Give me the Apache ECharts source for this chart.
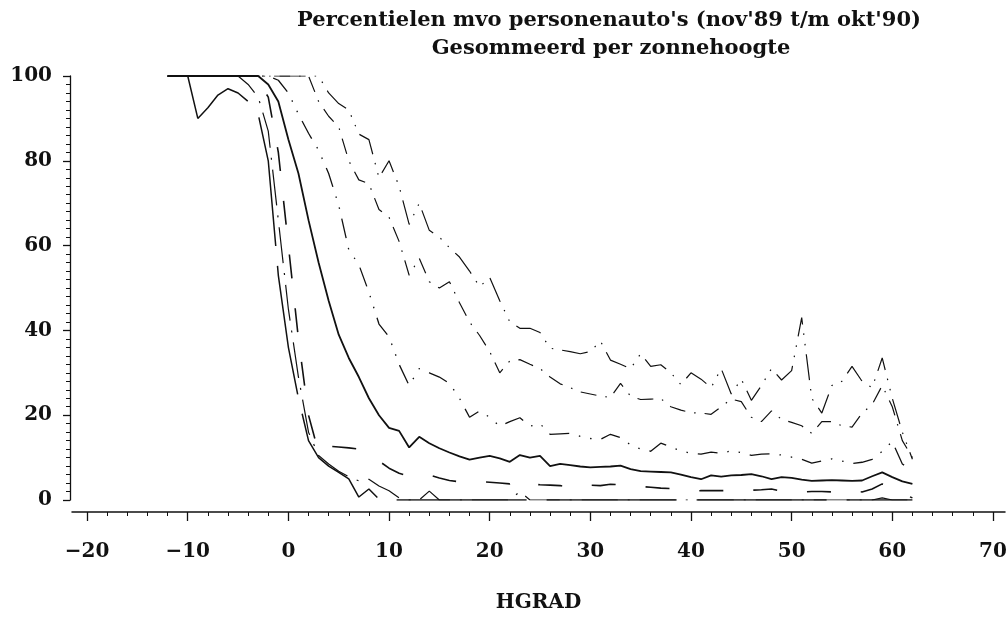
<!DOCTYPE html>
<html><head><meta charset="utf-8">
<script src="https://cdn.jsdelivr.net/npm/echarts@6/dist/echarts.min.js"></script>
<style>html,body{margin:0;padding:0;background:#fff}#c{width:1008px;height:619px}</style>
</head><body><div id="c"></div>
<script>
// Solar height (HGRAD), degrees
const hgrad = [-12,-11,-10,-9,-8,-7,-6,-5,-4,-3,
  -2,-1,0,1,2,3,4,5,6,7,
  8,9,10,11,12,13,14,15,16,17,
  18,19,20,21,22,23,24,25,26,27,
  28,29,30,31,32,33,34,35,36,37,
  38,39,40,41,42,43,44,45,46,47,
  48,49,50,51,52,53,54,55,56,57,
  58,59,60,61,62];

// Percentile curves, lowest to highest (values in %)
const pA = [100,100,100,90,92.5,95.5,97,96,94,91,
  80,53,36,24,14,10,8,6.5,5,0.7,
  2.6,0.2,0,0,0,0,0,0,0,0,
  0,0,0,0,0,0,0,0,0,0,
  0,0,0,0,0,0,0,0,0,0,
  0,0,0,0,0,0,0,0,0,0,
  0,0,0,0,0,0,0,0,0,0,
  0,0,0,0,0];
const pB = [100,100,100,100,100,100,100,100,98,95,
  87,66,45,29,16,10.5,8.5,6.8,5.5,4.5,
  4.9,3.3,2.2,0.5,0,0,2.1,0,0,0,
  0,0,0,0,0,2,0,0,0,0,
  0,0,0,0,0,0,0,0,0,0,
  0,0,0,0,0,0,0,0,0,0,
  0,0,0,0,0,0,0,0,0,0,
  0,0.5,0,0,0];
const pC = [100,100,100,100,100,100,100,100,100,99,
  95,82,60,38,20,11.2,12.7,12.5,12.3,12,
  10.5,9.2,7.5,6.3,5.6,5.8,5.9,5.2,4.6,4.3,
  4.3,4.3,4.2,4,3.8,4.8,3.8,3.6,3.5,3.4,
  3,3.6,3.5,3.4,3.7,3.6,3.4,3.2,3,2.8,
  2.7,2.4,2.1,2.2,2.2,2.2,2.2,2.3,2.3,2.4,
  2.6,2.1,1.8,1.9,2,2,1.9,2.3,2.2,1.9,
  2.6,3.8,3,1.5,0.5];
const pD = [100,100,100,100,100,100,100,100,100,100,
  98,94,85,77,66,56,47,39,33.5,29,
  24,20,17,16.3,12.4,14.9,13.4,12.2,11.2,10.3,
  9.5,10,10.4,9.8,9,10.6,10,10.4,8,8.5,
  8.2,7.9,7.7,7.8,7.9,8.1,7.3,6.8,6.7,6.6,
  6.5,6,5.4,4.9,5.8,5.5,5.8,5.9,6.1,5.6,
  4.9,5.4,5.2,4.8,4.5,4.6,4.7,4.6,4.5,4.6,
  5.6,6.5,5.4,4.4,3.8];
const pE = [100,100,100,100,100,100,100,100,100,100,
  100,99,96,91,86.5,82.5,77,69.5,59,55.5,
  49,41.5,38.5,32,27,31,30,29,27.5,24,
  19.5,21,19.5,17.4,18.5,19.4,17.4,18,15.5,15.6,
  15.7,15,14.5,14.3,15.5,14.7,13,12,11.5,13.4,
  12.5,11.6,11,10.8,11.3,11,11.6,11.2,10.5,10.8,
  10.9,10.6,10.1,9.6,8.7,9.2,9.7,9.2,8.6,8.9,
  9.6,11.5,13.8,8.5,6.9];
const pF = [100,100,100,100,100,100,100,100,100,100,
  100,100,100,100,100,94,90.5,88,80,75.5,
  74.6,68.5,66.7,61,53,57,51.5,50,51.5,46.5,
  42,38.8,35,30,32.8,33.1,32,31,29,27.4,
  26.5,25.5,25,24.5,24.2,27.5,24.5,23.7,23.8,23.9,
  22,21.2,20.6,20.5,20.2,22,23.8,23.2,19.5,18.5,
  21,19,18.3,17.5,15.7,18.5,18.5,17.5,17.2,20.5,
  22.5,27,22,14,10];
const pG = [100,100,100,100,100,100,100,100,100,100,
  100,100,100,100,100,100,96,93.5,92,86.3,
  85,76,80,74,65,70,63.6,62,59.5,57.3,
  54,50.3,52.5,47,42,40.5,40.5,39.5,35.8,35.4,
  35,34.5,35,37.5,33,32,31,34.5,31.5,31.9,
  30,27.2,30,28.5,26.5,31,25,28.5,23.5,27,
  31,28.3,30.5,43,24,20.5,27,28,31.5,28,
  26.5,33.5,24,16,9.6];

// Axis ticks
const xTicks = [-20,-10,0,10,20,30,40,50,60,70];
const xMinorTicks = [-20,-18,-16,-14,-12,-10,-8,-6,-4,-2,0,2,4,6,8,10,12,14,16,18,20,
  22,24,26,28,30,32,34,36,38,40,42,44,46,48,50,52,54,56,58,60,62,64,66,68,70];

const titleLines = ["Percentielen mvo personenauto's (nov'89 t/m okt'90)", 'Gesommeerd per zonnehoogte'];
const xName = 'HGRAD';

const FONT = '"DejaVu Serif", "Liberation Serif", serif';
const INK = '#111';
const chart = echarts.init(document.getElementById('c'), null, {renderer: 'canvas'});

function curve(name, vals, dash, width) {
  return {
    name: name, type: 'line', symbol: 'none', silent: true,
    data: hgrad.map((x, i) => [x, vals[i]]),
    lineStyle: {color: INK, width: width, type: dash, cap: 'butt'}
  };
}

const labelStyle = {fontFamily: FONT, fontWeight: 'bold', fontSize: 20, color: INK};

chart.setOption({
  animation: false,
  backgroundColor: '#fff',
  grid: {left: 72, right: 3, top: 76, bottom: 119, outerBoundsMode: 'none'},
  graphic: [
    {type: 'text', x: 609, y: 21, style: {text: titleLines[0], textAlign: 'center', textVerticalAlign: 'middle', fill: INK, font: 'bold 21px ' + FONT}},
    {type: 'text', x: 611, y: 49, style: {text: titleLines[1], textAlign: 'center', textVerticalAlign: 'middle', fill: INK, font: 'bold 21px ' + FONT}}
  ],
  xAxis: [
    {
      type: 'value', min: -21.5, max: 71.2, position: 'bottom', offset: 12,
      axisLine: {show: true, onZero: false, lineStyle: {color: INK, width: 1.5}},
      splitLine: {show: false},
      axisTick: {show: true, customValues: xTicks, length: 9, lineStyle: {color: INK, width: 1.3}},
      axisLabel: Object.assign({customValues: xTicks, margin: 30,
        formatter: v => (v < 0 ? '\u2212' + (-v) : String(v))}, labelStyle),
      name: xName, nameLocation: 'middle', nameGap: 81,
      nameTextStyle: labelStyle
    },
    {
      type: 'value', min: -21.5, max: 71.2, position: 'bottom', offset: 12,
      axisLine: {show: false, onZero: false}, splitLine: {show: false},
      axisTick: {show: true, customValues: xMinorTicks, length: 4, lineStyle: {color: INK, width: 1}},
      axisLabel: {show: false}
    }
  ],
  yAxis: {
    type: 'value', min: 0, max: 100, interval: 20, offset: 2, position: 'left',
    axisLine: {show: true, onZero: false, lineStyle: {color: INK, width: 1.3}},
    axisTick: {show: true, length: 7, lineStyle: {color: INK, width: 1.3}},
    minorTick: {show: true, splitNumber: 10, length: 4, lineStyle: {color: INK, width: 1}},
    splitLine: {show: false},
    axisLabel: Object.assign({margin: 18}, labelStyle)
  },
  series: [
    curve('A', pA, [130, 20], 1.5),
    curve('B', pB, [36, 10, 2, 10], 1.2),
    curve('C', pC, [24, 30], 1.6),
    curve('D', pD, 'solid', 1.8),
    curve('E', pE, [20, 10, 1.5, 10, 1.5, 10], 1.3),
    curve('F', pF, [16, 9, 1.5, 9], 1.2),
    curve('G', pG, [26, 9, 1.5, 9, 1.5, 9], 1.2)
  ]
});
</script></body></html>
